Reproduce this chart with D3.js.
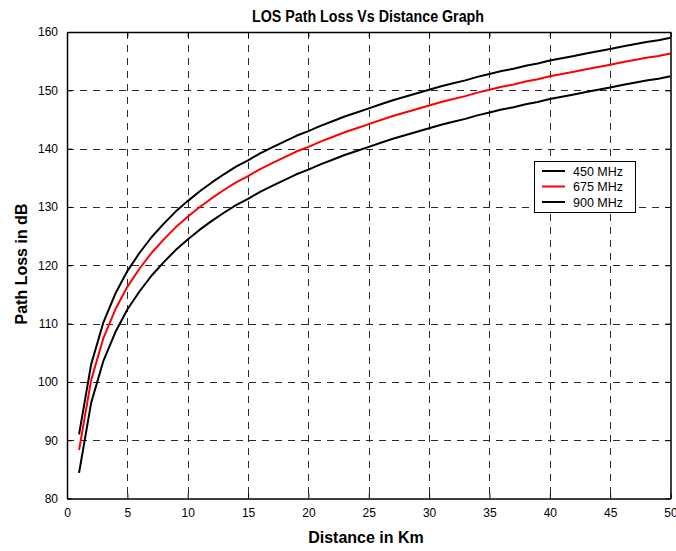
<!DOCTYPE html>
<html>
<head>
<meta charset="utf-8">
<script src="https://cdn.jsdelivr.net/npm/d3@7"></script>
<style>
  html, body { margin: 0; padding: 0; background: #fff; }
  svg { display: block; font-family: "Liberation Sans", Arial, Helvetica, sans-serif; }
</style>
</head>
<body>
<svg id="chart" width="676" height="551"></svg>
<script>
// ---- data ----
const distanceKm = [1,2,3,4,5,6,7,8,9,10,11,12,13,14,15,16,17,18,19,20,21,22,23,24,25,26,27,28,29,30,31,32,33,34,35,36,37,38,39,40,41,42,43,44,45,46,47,48,49,50];
const loss900 = [91.0,103.0,110.1,115.1,119.0,122.1,124.8,127.1,129.2,131.0,132.7,134.2,135.6,136.9,138.0,139.2,140.2,141.2,142.2,143.0,143.9,144.7,145.5,146.2,146.9,147.6,148.3,148.9,149.5,150.1,150.7,151.2,151.7,152.3,152.8,153.3,153.7,154.2,154.6,155.1,155.5,155.9,156.3,156.7,157.1,157.5,157.9,158.3,158.6,159.0];
const loss675 = [88.3,100.3,107.4,112.4,116.3,119.4,122.1,124.4,126.5,128.3,130.0,131.5,132.9,134.2,135.3,136.5,137.5,138.5,139.5,140.3,141.2,142.0,142.8,143.5,144.2,144.9,145.6,146.2,146.8,147.4,148.0,148.5,149.0,149.6,150.1,150.6,151.0,151.5,151.9,152.4,152.8,153.2,153.6,154.0,154.4,154.8,155.2,155.6,155.9,156.3];
const loss450 = [84.4,96.4,103.5,108.5,112.4,115.5,118.2,120.5,122.6,124.4,126.1,127.6,129.0,130.3,131.4,132.6,133.6,134.6,135.6,136.4,137.3,138.1,138.9,139.6,140.3,141.0,141.7,142.3,142.9,143.5,144.1,144.6,145.1,145.7,146.2,146.7,147.1,147.6,148.0,148.5,148.9,149.3,149.7,150.1,150.5,150.9,151.3,151.7,152.0,152.4];
const xTicks = [0,5,10,15,20,25,30,35,40,45,50];
const yTicks = [80,90,100,110,120,130,140,150,160];
const legendLabels = ["450 MHz","675 MHz","900 MHz"];
const seriesColors = ["#000000","#ff0000","#000000"];
const title = "LOS Path Loss Vs Distance Graph";
const xLabel = "Distance in Km";
const yLabel = "Path Loss in dB";

// ---- layout ----
const svg = d3.select("#chart");
const L = 67, R = 670.5, T = 32, B = 498.5;
const x = d3.scaleLinear().domain([0, 50]).range([L, R]);
const y = d3.scaleLinear().domain([80, 160]).range([B, T]);

// grid
const grid = svg.append("g").attr("stroke", "#2a2a2a").attr("stroke-width", 1).attr("stroke-dasharray", "7,6");
grid.selectAll("line.v").data(xTicks.slice(1, -1)).enter().append("line")
  .attr("x1", d => Math.round(x(d)) + 0.5).attr("x2", d => Math.round(x(d)) + 0.5)
  .attr("y1", T).attr("y2", B);
grid.selectAll("line.h").data(yTicks.slice(1, -1)).enter().append("line")
  .attr("x1", L).attr("x2", R)
  .attr("y1", d => Math.round(y(d)) + 0.5).attr("y2", d => Math.round(y(d)) + 0.5);

// series
const series = [loss450, loss675, loss900];
const line = d3.line().x((d, i) => x(distanceKm[i])).y(d => y(d));
series.forEach((s, k) => {
  svg.append("path").datum(s).attr("d", line)
    .attr("fill", "none").attr("stroke", seriesColors[k]).attr("stroke-width", 2)
    .attr("stroke-linejoin", "round");
});

// axes (inward ticks, box)
const axB = d3.axisBottom(x).tickValues(xTicks).tickSizeInner(-5).tickSizeOuter(0).tickPadding(10);
const axL = d3.axisLeft(y).tickValues(yTicks).tickSizeInner(-5).tickSizeOuter(0).tickPadding(9);
const axT = d3.axisTop(x).tickValues(xTicks).tickSizeInner(-5).tickSizeOuter(0).tickFormat("");
const axR = d3.axisRight(y).tickValues(yTicks).tickSizeInner(-5).tickSizeOuter(0).tickFormat("");
function styleAxis(g) {
  g.selectAll("path").attr("stroke", "#000").attr("stroke-width", 1.5);
  g.selectAll("line").attr("stroke", "#000").attr("stroke-width", 1);
  g.selectAll("text").attr("font-size", 12).attr("fill", "#000")
    .attr("font-family", "'Liberation Sans', Arial, sans-serif");
}
svg.append("g").attr("transform", `translate(0,${B})`).call(axB).call(styleAxis);
svg.append("g").attr("transform", `translate(${L},0)`).call(axL).call(styleAxis);
svg.append("g").attr("transform", `translate(0,${T})`).call(axT).call(styleAxis);
svg.append("g").attr("transform", `translate(${R},0)`).call(axR).call(styleAxis);

// title and labels
svg.append("text").attr("x", 368).attr("y", 22).attr("text-anchor", "middle")
  .attr("font-size", 16).attr("font-weight", "bold")
  .attr("textLength", 232).attr("lengthAdjust", "spacingAndGlyphs").text(title);
svg.append("text").attr("x", 366).attr("y", 543).attr("text-anchor", "middle")
  .attr("font-size", 16).attr("font-weight", "bold").text(xLabel);
svg.append("text").attr("transform", "translate(27,264) rotate(-90)").attr("text-anchor", "middle")
  .attr("font-size", 16).attr("font-weight", "bold").text(yLabel);

// legend
const lg = svg.append("g");
lg.append("rect").attr("x", 534.5).attr("y", 161.5).attr("width", 101).attr("height", 51)
  .attr("fill", "#fff").attr("stroke", "#000").attr("stroke-width", 1);
legendLabels.forEach((lab, i) => {
  const yy = 171 + i * 15.5;
  lg.append("line").attr("x1", 542).attr("x2", 565).attr("y1", yy).attr("y2", yy)
    .attr("stroke", seriesColors[i]).attr("stroke-width", 2);
  lg.append("text").attr("x", 573).attr("y", yy + 4.5).attr("font-size", 12.5).text(lab);
});
</script>
</body>
</html>
